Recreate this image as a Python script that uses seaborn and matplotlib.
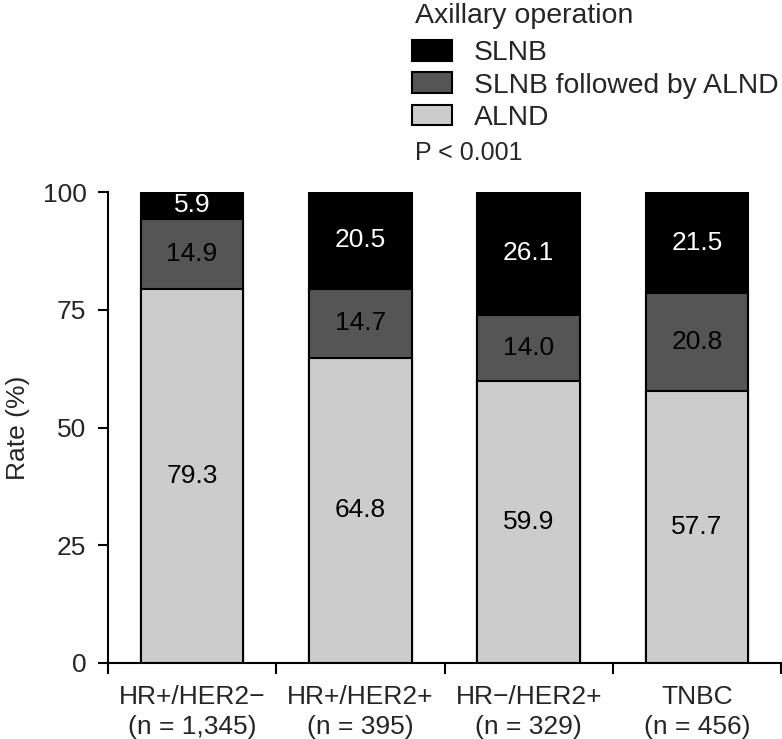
import matplotlib
matplotlib.use("Agg")
import matplotlib.pyplot as plt
from matplotlib.patches import Patch
import numpy as np
import seaborn as sns

groups = ["HR+/HER2\u2212\n(n = 1,345)", "HR+/HER2+\n(n = 395)",
          "HR\u2212/HER2+\n(n = 329)", "TNBC\n(n = 456)"]
alnd = np.array([79.3, 64.8, 59.9, 57.7])
slnb_alnd = np.array([14.9, 14.7, 14.0, 20.8])
slnb = np.array([5.9, 20.5, 26.1, 21.5])
yticks = [0, 25, 50, 75, 100]

series_names = ["SLNB", "SLNB followed by ALND", "ALND"]
c_slnb, c_mid, c_alnd = "#000000", "#555555", "#cccccc"

sns.set_style("ticks")
plt.rcParams["font.family"] = ["Liberation Sans", "DejaVu Sans"]

fs = 19
fig = plt.figure(figsize=(7.82, 7.39), dpi=100)
ax = fig.add_axes([108 / 782, 1 - 663 / 739, 673 / 782, (663 - 192) / 739])

lw = 1.5
top2 = alnd + slnb_alnd
top3 = top2 + slnb
for h, c in [(top3, c_slnb), (top2, c_mid), (alnd, c_alnd)]:
    sns.barplot(x=groups, y=h, color=c, saturation=1, width=0.61,
                edgecolor="black", linewidth=lw, ax=ax, zorder=2)

for i in range(len(groups)):
    ax.text(i, alnd[i] / 2, f"{alnd[i]:.1f}", ha="center", va="center",
            fontsize=fs, color="black")
    ax.text(i, alnd[i] + slnb_alnd[i] / 2, f"{slnb_alnd[i]:.1f}", ha="center",
            va="center", fontsize=fs, color="black")
    ax.text(i, top2[i] + slnb[i] / 2, f"{slnb[i]:.1f}", ha="center",
            va="center", fontsize=fs, color="white")

ax.set_xlim(-0.5, len(groups) - 0.5)
ax.set_ylim(0, 100)
ax.set_yticks(yticks)
ax.set_xticks(range(len(groups)))
ax.set_xticklabels(groups, fontsize=fs, linespacing=1.3)
ax.set_xticks(np.arange(-0.5, len(groups), 1), minor=True)
ax.tick_params(axis="x", which="major", length=0, pad=16)
ax.tick_params(axis="x", which="minor", length=8, width=lw, color="black")
ax.tick_params(axis="y", length=7.5, width=lw, color="black", labelsize=fs, pad=8)
ax.set_ylabel("Rate (%)", fontsize=fs, labelpad=9)
ax.set_xlabel("")
for s in ["top", "right"]:
    ax.spines[s].set_visible(False)
for s in ["left", "bottom"]:
    ax.spines[s].set_linewidth(lw)
    ax.spines[s].set_color("black")

lfs = 20.3
handles = [Patch(facecolor=c, edgecolor="black", linewidth=lw)
           for c in (c_slnb, c_mid, c_alnd)]
fig.text(415 / 782, 1 - 23 / 739, "Axillary operation", fontsize=20.5,
         va="baseline", ha="left")
leg = fig.legend(handles, series_names,
                 loc="upper left", bbox_to_anchor=(412 / 782, 1 - 40 / 739),
                 frameon=False, fontsize=lfs,
                 borderpad=0, borderaxespad=0,
                 handlelength=1.42, handleheight=0.75, handletextpad=0.78,
                 labelspacing=0.22)
fig.text(415 / 782, 1 - 160 / 739, "P < 0.001", fontsize=18, va="baseline")

fig.savefig("out.png", dpi=100)
